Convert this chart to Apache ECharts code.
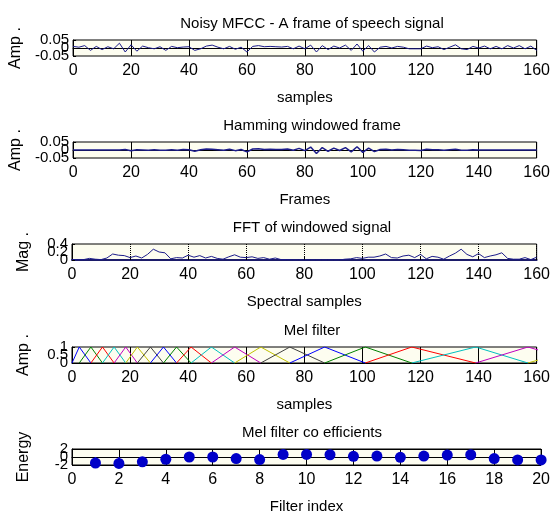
<!DOCTYPE html>
<html>
<head>
<meta charset="utf-8">
<script src="https://cdn.jsdelivr.net/npm/echarts@6/dist/echarts.min.js"></script>
<style>
  html, body { margin: 0; padding: 0; background: #fff; }
  #chart { width: 553px; height: 517px; }
</style>
</head>
<body>
<div id="chart"></div>
<script>
// sample positions (every 2nd sample of the 160-sample frame)
const sampleX = [0,2,4,6,8,10,12,14,16,18,20,22,24,26,28,30,32,34,36,38,40,42,44,46,48,50,52,54,56,58,60,62,64,66,68,70,72,74,76,78,80,82,84,86,88,90,92,94,96,98,100,102,104,106,108,110,112,114,116,118,120,122,124,126,128,130,132,134,136,138,140,142,144,146,148,150,152,154,156,158,160];

// noisy speech frame
const frameAmp = [0.010,0.005,0.015,-0.015,0.010,-0.010,0.008,-0.005,0.030,-0.025,0.020,-0.020,0.012,0.002,-0.005,0.008,-0.015,0.010,0.002,0.006,0.008,-0.015,-0.005,0.012,0.018,0.005,-0.005,0.010,-0.008,0.005,-0.025,0.010,0.015,0.008,0.010,0.008,0.006,0.010,-0.005,0.012,-0.005,0.018,-0.025,0.015,-0.010,0.012,0.000,0.018,-0.015,0.025,-0.020,0.015,-0.025,0.005,0.010,0.000,0.010,0.005,-0.005,-0.005,-0.005,0.012,0.002,0.008,-0.010,0.005,0.020,-0.005,-0.010,0.010,0.000,0.012,-0.005,0.010,-0.005,0.015,0.000,0.015,-0.005,0.012,-0.015];

// hamming windowed frame
const windowedAmp = [0,0,0,0,0,0,0,0,0,0.003,-0.005,0.002,0,-0.002,0.001,-0.001,-0.002,0.002,-0.001,0.003,0.002,-0.008,0.001,0.006,0.004,0.002,-0.002,0.005,-0.004,0.003,-0.012,0.006,0.008,0.003,0.004,0.003,0.003,0.006,-0.002,0.010,-0.004,0.018,-0.022,0.015,-0.008,0.012,-0.003,0.015,-0.012,0.020,-0.015,0.012,-0.010,0.003,0.005,0,0.003,0.002,-0.002,-0.001,-0.003,0.005,0.001,0.002,-0.002,0.001,0.004,-0.001,-0.002,0.001,0,0,0,0,0,0,0,0,0,0,0];

// FFT magnitude of windowed signal
const fftMag = [0.01,0.01,0.01,0.04,0.02,0.01,0.05,0.15,0.12,0.11,0.06,0.10,0.05,0.14,0.27,0.20,0.18,0.03,0.06,0.05,0.12,0.07,0.11,0.05,0.09,0.04,0.02,0.08,0.13,0.07,0.06,0.08,0.04,0.06,0.02,0.05,0.01,0.01,0.00,0.00,0.00,0.00,0.00,0.00,0.00,0.00,0.00,0.02,0.03,0.06,0.04,0.07,0.07,0.10,0.15,0.06,0.05,0.10,0.12,0.06,0.14,0.03,0.09,0.07,0.02,0.10,0.17,0.27,0.14,0.08,0.16,0.06,0.10,0.13,0.18,0.04,0.02,0.02,0.06,0.01,0.07];

// mel filter band edges (bin positions), filter k spans edges k..k+2
const melEdges = [0,2.5,6.5,10.5,14.5,18.5,22.5,27,31.5,36,41,48,56,65,75,87,101,117,139,157,176,196];

// mel filter coefficients
const filterIndex = [1,2,3,4,5,6,7,8,9,10,11,12,13,14,15,16,17,18,19,20];
const melEnergy = [-1.5,-1.6,-1.2,-0.56,0,0,-0.4,-0.64,0.64,0.64,0.56,0.16,0.24,-0.08,0.24,0.48,0.56,-0.4,-0.72,-0.72];

const titles = ['Noisy MFCC - A frame of speech signal', 'Hamming windowed frame', 'FFT of windowed signal', 'Mel filter', 'Mel filter co efficients'];
const xNames = ['samples', 'Frames', 'Spectral samples', 'samples', 'Filter index'];
const yNames = ['Amp .', 'Amp .', 'Mag .', 'Amp .', 'Energy'];

const FONT = '"Liberation Sans", Arial, sans-serif';
const matColors = ['#0000ff','#008000','#ff0000','#00bfbf','#bf00bf','#bfbf00','#404040'];
const lineColor = '#1c1c8a';

const tops = [40, 142, 244, 347, 449];
const boxH = 16;
const gridLeft = 72, gridRight = 11;

const xRanges = [[0,160,20],[0,160,20],[0,160,20],[0,160,20],[0,20,2]];
const yRanges = [[-0.05,0.05,0.05],[-0.05,0.05,0.05],[0,0.4,0.2],[0,1,0.5],[-2,2,2]];

const myChart = echarts.init(document.getElementById('chart'), null, { renderer: 'canvas' });

const pairs = (xs, ys) => xs.map((x, i) => [x, ys[i]]);
const yLabelStyle = { margin: 4, fontFamily: FONT, fontSize: 15, color: '#000', hideOverlap: false };

// main y axes show the end labels; a second bare axis per panel carries the middle label
const mainY = yRanges.map((r, i) => ({
  type: 'value',
  gridIndex: i,
  min: r[0], max: r[1], interval: r[2],
  name: yNames[i],
  nameLocation: 'middle',
  nameRotate: 90,
  nameGap: 40,
  nameTextStyle: { fontFamily: FONT, fontSize: 16, color: '#000' },
  axisLine: { show: true, lineStyle: { color: '#000' } },
  axisTick: { show: true, inside: true, length: 3, lineStyle: { color: '#000' } },
  axisLabel: Object.assign({ showMinLabel: true, showMaxLabel: true }, yLabelStyle),
  splitLine: { show: i === 4, lineStyle: { color: '#000', width: 1 } }
}));
const midY = yRanges.map((r, i) => ({
  type: 'value',
  gridIndex: i,
  position: 'left',
  min: r[0], max: r[1], interval: r[2],
  axisLine: { show: false },
  axisTick: { show: false },
  axisLabel: Object.assign({ showMinLabel: false, showMaxLabel: false }, yLabelStyle),
  splitLine: { show: false }
}));

let option = {
  backgroundColor: '#ffffff',
  animation: false,
  title: titles.map((t, i) => ({
    text: t,
    left: gridLeft + (553 - gridLeft - gridRight) / 2,
    textAlign: 'center',
    top: tops[i] - 29,
    textStyle: { fontFamily: FONT, fontSize: 15, fontWeight: 'normal', color: '#000' }
  })),
  grid: tops.map(t => ({
    left: gridLeft,
    right: gridRight,
    top: t,
    height: boxH,
    show: true,
    borderColor: '#000',
    borderWidth: 1,
    backgroundColor: '#fdfdf0'
  })),
  xAxis: xRanges.map((r, i) => ({
    type: 'value',
    gridIndex: i,
    min: r[0], max: r[1], interval: r[2],
    name: xNames[i],
    nameLocation: 'middle',
    nameGap: 34,
    nameTextStyle: { fontFamily: FONT, fontSize: 15, color: '#000' },
    axisLine: { show: true, lineStyle: { color: i === 2 ? '#1c1c6a' : '#000', width: i === 2 ? 2 : 1 } },
    axisTick: { show: true, inside: true, length: 3, lineStyle: { color: '#000' } },
    axisLabel: { margin: 7, fontFamily: FONT, fontSize: 16, color: '#000', showMinLabel: true, showMaxLabel: true, hideOverlap: false },
    splitLine: { show: true, lineStyle: { color: '#000', width: 1, type: i === 2 ? 'dotted' : 'solid' } }
  })),
  yAxis: mainY.concat(midY),
  series: [
    {
      type: 'line', xAxisIndex: 0, yAxisIndex: 0,
      data: pairs(sampleX, frameAmp),
      showSymbol: false, lineStyle: { color: lineColor, width: 1 }
    },
    {
      type: 'line', xAxisIndex: 1, yAxisIndex: 1,
      data: pairs(sampleX, windowedAmp),
      showSymbol: false, lineStyle: { color: lineColor, width: 1.5 }
    },
    {
      type: 'line', xAxisIndex: 2, yAxisIndex: 2,
      data: pairs(sampleX, fftMag),
      showSymbol: false, lineStyle: { color: lineColor, width: 1 }
    },
    ...melEdges.slice(0, melEdges.length - 2).map((e, k) => ({
      type: 'line', xAxisIndex: 3, yAxisIndex: 3,
      data: [[melEdges[k], 0], [melEdges[k + 1], 1], [melEdges[k + 2], 0]],
      showSymbol: false,
      lineStyle: { color: matColors[k % matColors.length], width: 1 }
    })),
    {
      type: 'bar', xAxisIndex: 4, yAxisIndex: 4,
      data: pairs(filterIndex, melEnergy),
      barWidth: 1.5, itemStyle: { color: '#0000c8' }
    },
    {
      type: 'scatter', xAxisIndex: 4, yAxisIndex: 4,
      data: pairs(filterIndex, melEnergy),
      symbol: 'circle', symbolSize: 11,
      itemStyle: { color: '#0000c8', opacity: 1 }
    }
  ]
};

option && myChart.setOption(option, true);
</script>
</body>
</html>
